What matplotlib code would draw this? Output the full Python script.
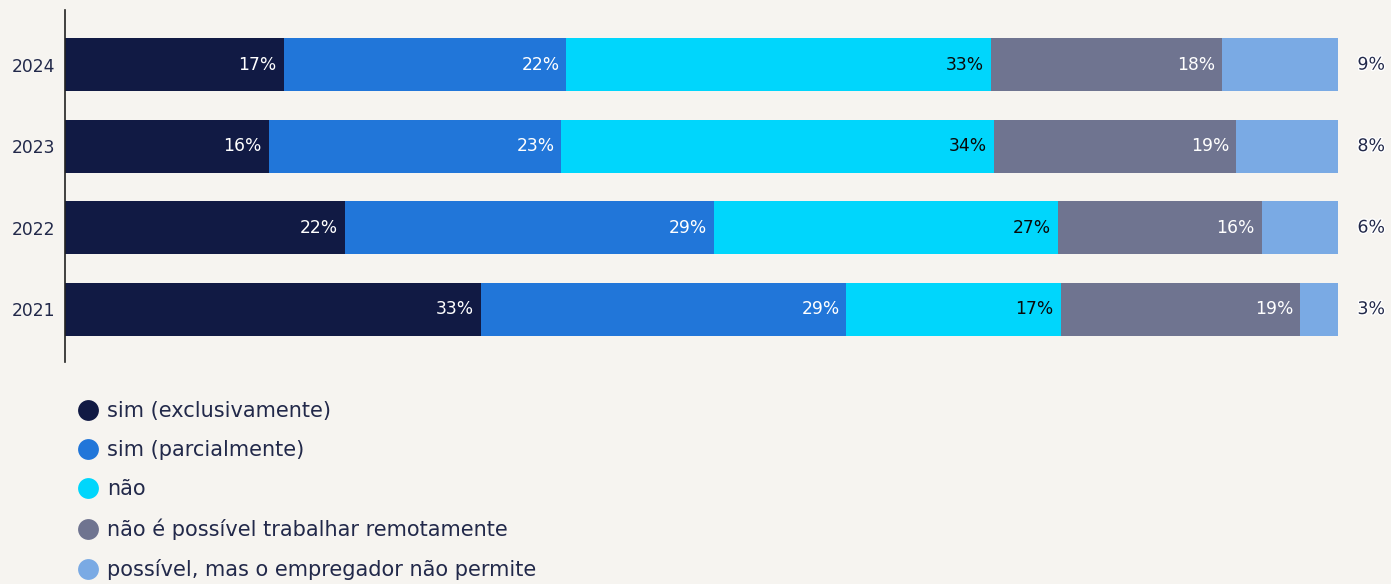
import numpy as np
import matplotlib.pyplot as plt
import matplotlib.patheffects as pe
from matplotlib.lines import Line2D

# Survey answers per year (percent, as published)
years = ["2021", "2022", "2023", "2024"]
categories = [
    "sim (exclusivamente)",
    "sim (parcialmente)",
    "não",
    "não é possível trabalhar remotamente",
    "possível, mas o empregador não permite",
]
sim_exclusivamente = [33, 22, 16, 17]
sim_parcialmente = [29, 29, 23, 22]
nao = [17, 27, 34, 33]
nao_possivel = [19, 16, 19, 18]
empregador_nao_permite = [3, 6, 8, 9]

colors = ["#111a44", "#2176d9", "#00d6fc", "#6f7490", "#7aaae4"]
label_colors = ["white", "white", "#0a0a0a", "white", None]
bg = "#f6f4f0"
text_dark = "#22294a"

series = [sim_exclusivamente, sim_parcialmente, nao, nao_possivel, empregador_nao_permite]
data = np.array(series, dtype=float)
totals = data.sum(axis=0)
shares = data / totals  # each bar spans the full width

fig = plt.figure(figsize=(13.91, 5.84), dpi=100, facecolor=bg)
ax = fig.add_axes([65 / 1391, 1 - 362 / 584, (1338 - 65) / 1391, 352 / 584])
ax.set_facecolor(bg)

y = np.arange(len(years))
left = np.zeros(len(years))
for i, (vals, frac) in enumerate(zip(series, shares)):
    ax.barh(y, frac, left=left, height=0.65, color=colors[i], edgecolor="none")
    for j in range(len(years)):
        if label_colors[i] is not None:
            ax.annotate(f"{vals[j]}%", xy=(left[j] + frac[j], y[j]),
                        xytext=(-5, 0), textcoords="offset points",
                        ha="right", va="center", fontsize=12.3,
                        color=label_colors[i])
        else:
            ax.annotate(f"{vals[j]}%", xy=(1.0, y[j]),
                        xytext=(14, 0), textcoords="offset points",
                        ha="left", va="center", fontsize=12.5, color=text_dark,
                        path_effects=[pe.withStroke(linewidth=2, foreground="white")])
    left += frac

ax.set_xlim(0, 1)
ax.set_ylim(-0.65, 3.67)
ax.set_yticks(y)
ax.set_yticklabels(years, fontsize=12.3, color=text_dark)
ax.tick_params(axis="y", length=0, pad=7)
ax.set_xticks([])
for side in ["top", "right", "bottom"]:
    ax.spines[side].set_visible(False)
ax.spines["left"].set_color("#222222")
ax.spines["left"].set_linewidth(1.2)

handles = [Line2D([], [], marker="o", linestyle="none", markersize=15,
                  markerfacecolor=c, markeredgecolor="none") for c in colors]
fig.legend(handles, categories, loc="upper left",
           bbox_to_anchor=(78 / 1391, 1 - 401 / 584), frameon=False,
           fontsize=15, labelcolor=text_dark, handletextpad=0.41,
           handlelength=1.0, labelspacing=0.92, borderpad=0, borderaxespad=0)

fig.savefig("out.png", dpi=100, facecolor=bg)
